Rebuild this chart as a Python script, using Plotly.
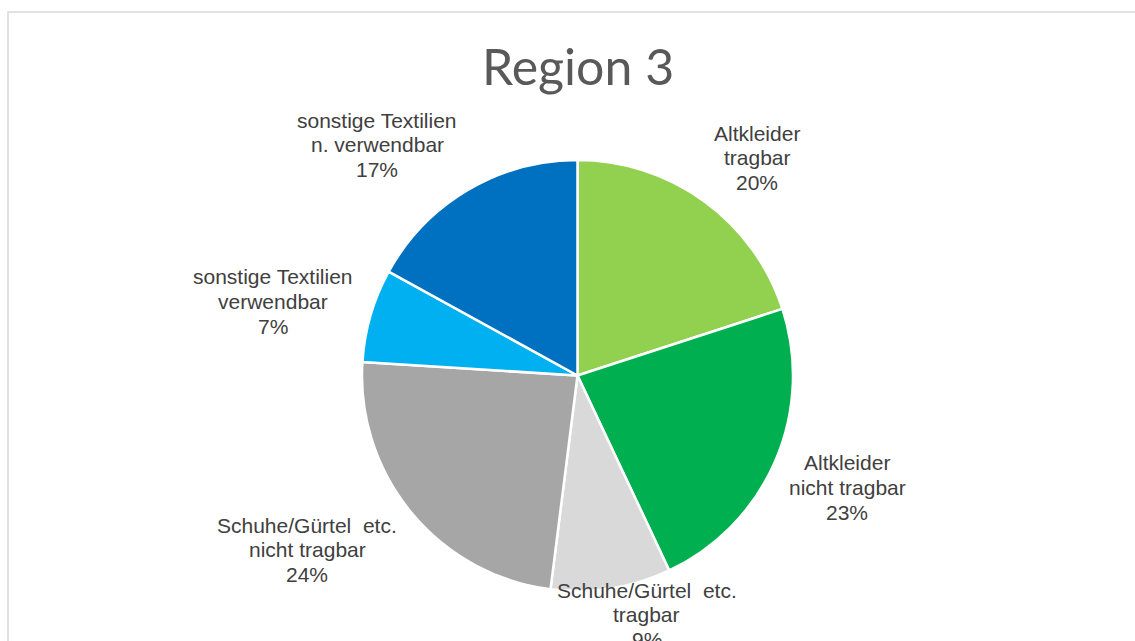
import plotly.graph_objects as go

# Composition of collected textiles, Region 3 (share in %)
categories = [
    ["Altkleider", "tragbar"],
    ["Altkleider", "nicht tragbar"],
    ["Schuhe/Gürtel\u00a0 etc.", "tragbar"],
    ["Schuhe/Gürtel\u00a0 etc.", "nicht tragbar"],
    ["sonstige Textilien", "verwendbar"],
    ["sonstige Textilien", "n. verwendbar"],
]
shares = [20, 23, 9, 24, 7, 17]
colors = ["#92D050", "#00B050", "#D9D9D9", "#A6A6A6", "#00B0F0", "#0070C0"]
title_text = "Region 3"

W, H = 1135, 641

# pie placement (pixels): centre and radius
cx, cy, r = 577.5, 375.5, 215.5

# anchor (centre x, first-line centre y) of each outside data label, in pixels
label_anchor = [
    (757, 133),
    (847, 463),
    (647, 590),
    (307, 525),
    (273, 277),
    (377, 120),
]
line_step = 24.7

names = [" ".join(c) for c in categories]

fig = go.Figure(
    go.Pie(
        labels=names,
        values=shares,
        sort=False,
        direction="clockwise",
        rotation=0,
        marker=dict(colors=colors, line=dict(color="#FFFFFF", width=2.5)),
        textinfo="none",
        hoverinfo="label+percent",
        showlegend=False,
        domain=dict(
            x=[(cx - r) / W, (cx + r) / W],
            y=[1 - (cy + r) / H, 1 - (cy - r) / H],
        ),
    )
)

annotations = []
label_font = dict(family="Liberation Sans, Arial, sans-serif", size=21, color="#404040")
for cat, val, (ax, ay) in zip(categories, shares, label_anchor):
    lines = list(cat) + [f"{val}%"]
    for i, txt in enumerate(lines):
        annotations.append(
            dict(
                text=txt,
                x=ax / W,
                y=1 - (ay + i * line_step) / H,
                xref="paper",
                yref="paper",
                xanchor="center",
                yanchor="middle",
                showarrow=False,
                font=label_font,
            )
        )

annotations.append(
    dict(
        text=title_text,
        x=578 / W,
        y=1 - 66 / H,
        xref="paper",
        yref="paper",
        xanchor="center",
        yanchor="middle",
        showarrow=False,
        font=dict(family="Lato, Open Sans, sans-serif", size=50, color="#595959"),
    )
)

# chart-area frame (continues past the right and bottom edges)
shapes = [
    dict(
        type="rect",
        xref="paper",
        yref="paper",
        x0=8 / W,
        y0=-0.05,
        x1=1.05,
        y1=1 - 12 / H,
        line=dict(color="#D9D9D9", width=1.5),
        fillcolor="rgba(0,0,0,0)",
        layer="below",
    )
]

fig.update_layout(
    width=W,
    height=H,
    margin=dict(l=0, r=0, t=0, b=0),
    paper_bgcolor="#FFFFFF",
    plot_bgcolor="#FFFFFF",
    annotations=annotations,
    shapes=shapes,
)

fig.write_html("out.html", include_plotlyjs=True, config={"displayModeBar": False})
